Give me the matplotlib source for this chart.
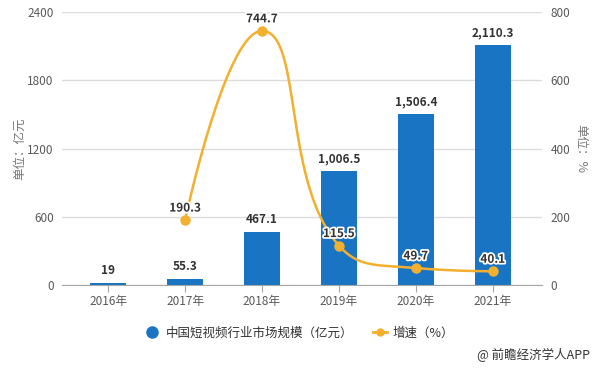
import matplotlib
matplotlib.use("Agg")
import matplotlib.pyplot as plt
import matplotlib.patheffects as pe
from matplotlib.lines import Line2D
import numpy as np

plt.rcParams['font.family'] = ['Noto Sans CJK SC', 'DejaVu Sans']

# data
years = ['2016年', '2017年', '2018年', '2019年', '2020年', '2021年']
market_size = [19, 55.3, 467.1, 1006.5, 1506.4, 2110.3]
growth_years = [1, 2, 3, 4, 5]   # growth rate starts from 2017
growth = [190.3, 744.7, 115.5, 49.7, 40.1]
size_labels = ['19', '55.3', '467.1', '1,006.5', '1,506.4', '2,110.3']

bar_color = '#1a74c4'
line_color = '#f2b02e'
text_dark = '#333333'
tick_color = '#595959'


def smooth_curve(xs, ys, sx, sy, smooth=0.5, n=40):
    # bezier smoothing, control points kept inside each segment's box
    pts = np.column_stack([np.asarray(xs, float) * sx, np.asarray(ys, float) * sy])
    m = len(pts)
    cin = [pts[i].copy() for i in range(m)]
    cout = [pts[i].copy() for i in range(m)]
    for i in range(1, m - 1):
        p, prv, nxt = pts[i], pts[i - 1], pts[i + 1]
        v = nxt - prv
        lp = np.linalg.norm(p - prv)
        ln = np.linalg.norm(nxt - p)
        r = ln / (ln + lp)
        c1 = np.clip(p + v * smooth * r, np.minimum(p, nxt), np.maximum(p, nxt))
        c0 = p - (c1 - p) * lp / ln
        c0 = np.clip(c0, np.minimum(p, prv), np.maximum(p, prv))
        c1 = p + (p - c0) * ln / lp
        cin[i], cout[i] = c0, c1
    out = [pts[0]]
    t = np.linspace(0, 1, n)[1:, None]
    for i in range(m - 1):
        p0, p1, p2, p3 = pts[i], cout[i], cin[i + 1], pts[i + 1]
        seg = ((1 - t) ** 3) * p0 + 3 * ((1 - t) ** 2) * t * p1 + 3 * (1 - t) * t ** 2 * p2 + t ** 3 * p3
        out.extend(seg)
    out = np.array(out)
    return out[:, 0] / sx, out[:, 1] / sy


fig = plt.figure(figsize=(5.96, 3.68), dpi=100)
ax = fig.add_axes([62 / 596, 1 - 285 / 368, 480 / 596, 273 / 368])
ax2 = ax.twinx()

x = np.arange(len(years))
bars = ax.bar(x, market_size, width=0.47, color=bar_color, zorder=2)
ax.set_xlim(-0.6, 5.64)
ax.set_ylim(0, 2400)
ax.set_yticks([0, 600, 1200, 1800, 2400])
ax.set_xticks(x)
ax.set_xticklabels(years)
ax.grid(axis='y', color='#dcdcdc', linewidth=1, zorder=0)
ax.set_axisbelow(True)
for s in ['top', 'left', 'right']:
    ax.spines[s].set_visible(False)
ax.spines['bottom'].set_color('#a6a6a6')
ax.tick_params(axis='y', length=0, labelsize=8.5, labelcolor=tick_color, pad=6)
ax.tick_params(axis='x', length=5, color='#a6a6a6', labelsize=8.5, labelcolor=tick_color, pad=2)
ax.set_ylabel('单位：亿元', fontsize=9, color='#777777', labelpad=1)

for xi, v, lab in zip(x, market_size, size_labels):
    ax.annotate(lab, (xi, v), xytext=(0, 12), textcoords='offset pixels',
                ha='center', va='center', fontsize=8.5, fontweight='bold', color=text_dark, zorder=5)

ax2.set_ylim(0, 800)
ax2.set_yticks([0, 200, 400, 600, 800])
for s in ['top', 'left', 'right', 'bottom']:
    ax2.spines[s].set_visible(False)
ax2.tick_params(axis='y', length=0, labelsize=8.5, labelcolor=tick_color, pad=6)
ax2.set_ylabel('单位：%', fontsize=9, color='#777777', rotation=270, labelpad=12)

cx, cy = smooth_curve(growth_years, growth, 77.0, 273.0 / 800)
ax2.plot(cx, cy, color=line_color, linewidth=1.8, zorder=3)
ax2.plot(growth_years, growth, 'o', color=line_color, markersize=6.5, zorder=4)
for xi, v in zip(growth_years, growth):
    ax2.annotate(f'{v:.1f}', (xi, v), xytext=(0, 12), textcoords='offset pixels',
                 ha='center', va='center', fontsize=8.5, fontweight='bold', color=text_dark,
                 path_effects=[pe.withStroke(linewidth=2.5, foreground='white')], zorder=5)

handles = [
    Line2D([], [], linestyle='none', marker='o', markersize=8, color=bar_color),
    Line2D([], [], color=line_color, linewidth=2, marker='o', markersize=5),
]
fig.legend(handles, ['中国短视频行业市场规模（亿元）', '增速（%）'], loc='center',
           bbox_to_anchor=(300 / 596, 1 - 333 / 368), ncol=2, frameon=False,
           fontsize=9, handlelength=1.1, handletextpad=0.5, columnspacing=1.6,
           labelcolor=text_dark)

fig.text(590 / 596, 1 - 355 / 368, '@ 前瞻经济学人APP', ha='right', va='center',
         fontsize=9, color=text_dark)

fig.savefig('out.png', dpi=100)
